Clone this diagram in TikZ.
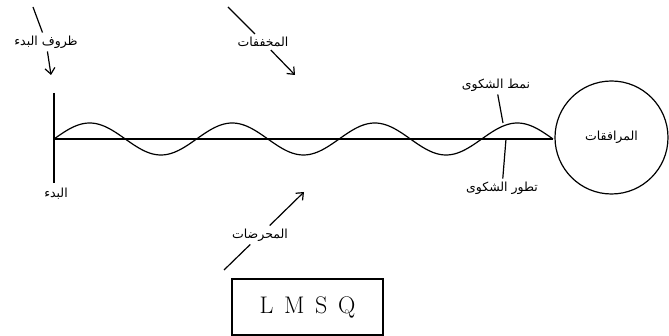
\documentclass[tikz,border=0pt]{standalone}
\usepackage{fontspec}
\newfontfamily\arabicfont[Script=Arabic]{DejaVu Sans}
\TeXXeTstate=1
\usetikzlibrary{arrows.meta}
\newcommand{\ar}[1]{{\arabicfont\beginR #1\endR}}
\tikzset{lbl/.style={font=\fontsize{12.5}{14}\selectfont,inner sep=3pt},
    conn/.style={line width=1.2pt},
    pointer/.style={line width=1.2pt,-{Straight Barb[length=6pt,width=10pt]}},
    wave/.style={line width=1.2pt},
    axis/.style={line width=1.5pt}}

\begin{document}
\begin{tikzpicture}[x=1pt,y=-1pt]
\useasboundingbox (0,0) rectangle (669,336);
\coordinate (start) at (54,139);
\coordinate (end) at (553,139);
\coordinate (ontop) at (54,93);
\coordinate (onbot) at (54,183);
\draw[axis] (start) -- (end);
\draw[conn] (ontop) -- (onbot);
\draw[wave,domain=0:499,samples=200] plot ({54+\x},{139-16*sin(\x*2.52505)});
\node[draw,circle,line width=1.2pt,minimum size=113pt,inner sep=0pt,lbl] (assoc) at (611.5,137.5) {\ar{المرافقات}};
\node[lbl] (onset) at (56,194) {\ar{البدء}};
\node[lbl] (cond) at (46,42) {\ar{ظروف البدء}};
\coordinate (c1) at (33,7);
\coordinate (c2) at (51,75);
\draw[conn] (c1) -- (cond);
\draw[pointer] (cond) -- (c2);
\node[lbl] (relief) at (263,42) {\ar{المخففات}};
\coordinate (r1) at (228,7);
\coordinate (r2) at (295,75);
\draw[conn] (r1) -- (relief);
\draw[pointer] (relief) -- (r2);
\node[lbl] (trig) at (260,235) {\ar{المحرضات}};
\coordinate (t1) at (224,270);
\coordinate (t2) at (304,192);
\draw[conn] (t1) -- (trig);
\draw[pointer] (trig) -- (t2);
\node[lbl] (pattern) at (496,85) {\ar{نمط الشكوى}};
\coordinate (p1) at (503,123);
\draw[conn] (pattern) -- (p1);
\node[lbl] (course) at (502,188) {\ar{تطور الشكوى}};
\coordinate (k1) at (506,139);
\draw[conn] (k1) -- (course);
\node[draw,line width=1.2pt,minimum width=151pt,minimum height=56pt,font=\fontsize{24}{26}\selectfont] (lmsq) at (307.5,307) {L\;\,M\;\,S\;\,Q};
\end{tikzpicture}
\end{document}
